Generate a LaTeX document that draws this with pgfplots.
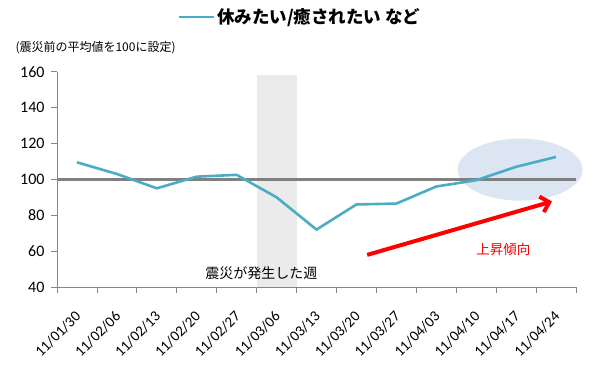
\documentclass[border=0pt]{standalone}
\usepackage{pgfplots}
\pgfplotsset{compat=1.18}
\usepackage{fontspec}
\setmainfont{Carlito}
\newfontfamily\jp{Noto Sans CJK JP}
\usetikzlibrary{arrows.meta}
\definecolor{serie}{HTML}{4BACC6}
\definecolor{band}{HTML}{EBEBEB}
\definecolor{ell}{HTML}{DCE6F2}
\definecolor{axisgray}{HTML}{868686}
\definecolor{hline}{HTML}{808080}
\begin{document}
\begin{tikzpicture}[x=1pt,y=1pt]
\useasboundingbox (-57,-96) rectangle (538,287);
\begin{axis}[
  at={(0,0)}, anchor=south west,
  width=519pt, height=215.3pt, scale only axis,
  xmin=-0.5, xmax=12.5, ymin=40, ymax=160,
  clip=false,
  axis x line=bottom, axis y line=left,
  axis line style={draw=axisgray, line width=0.8pt, -},
  every tick/.style={draw=axisgray, line width=0.8pt},
  ytick={40,60,...,160},
  xtick={0,...,12},
  xticklabels={11/01/30,11/02/06,11/02/13,11/02/20,11/02/27,11/03/06,11/03/13,11/03/20,11/03/27,11/04/03,11/04/10,11/04/17,11/04/24},
  minor xtick={-0.5,0.5,...,12.5},
  tick align=outside,
  major x tick style={draw=none},
  major tick length=6pt,
  minor tick length=6pt,
  /pgf/number format/assume math mode=true,
  x tick label style={rotate=45, anchor=north east, font=\fontsize{15}{15}\selectfont, black, xshift=-10.5pt, yshift=-6.5pt},
  y tick label style={font=\fontsize{16}{16}\selectfont, black, xshift=-3pt},
  legend style={at={(0.468,1.254)}, anchor=center, draw=none, fill=none,
    font=\jp\bfseries\fontsize{17.5}{17.5}\selectfont},
  legend image code/.code={\draw[#1] (0pt,0pt) -- (35pt,0pt);},
]
\fill[band] (axis cs:4.5,40) rectangle (axis cs:5.5,158);
\fill[ell] (axis cs:11.1,105.4) ellipse [x radius=62.5pt, y radius=31pt];
\addplot[hline, line width=2.5pt, forget plot] coordinates {(-0.5,100) (12.5,100)};
\addplot[serie, line width=2.6pt, mark=none] coordinates {
(0,109.5) (1,103) (2,95) (3,101.5) (4,102.5) (5,90) (6,72) (7,86) (8,86.5) (9,96) (10,99.5) (11,107) (12,112.5)};
\addlegendentry{休みたい/癒されたい など}
\draw[red, line width=4pt, -{Straight Barb[length=8pt, width=16pt]}] (axis cs:7.27,57.9) -- (axis cs:11.9,87.7);
\node[red, font=\jp\fontsize{13.5}{13.5}\selectfont] at (axis cs:10.68,60.7) {上昇傾向};
\node[black, font=\jp\fontsize{14}{14}\selectfont] at (axis cs:4.62,47.8) {震災が発生した週};
\node[anchor=west, font=\jp\fontsize{12}{12}\selectfont] at (rel axis cs:-0.0867,1.11) {(震災前の平均値を100に設定)};
\end{axis}
\end{tikzpicture}
\end{document}
